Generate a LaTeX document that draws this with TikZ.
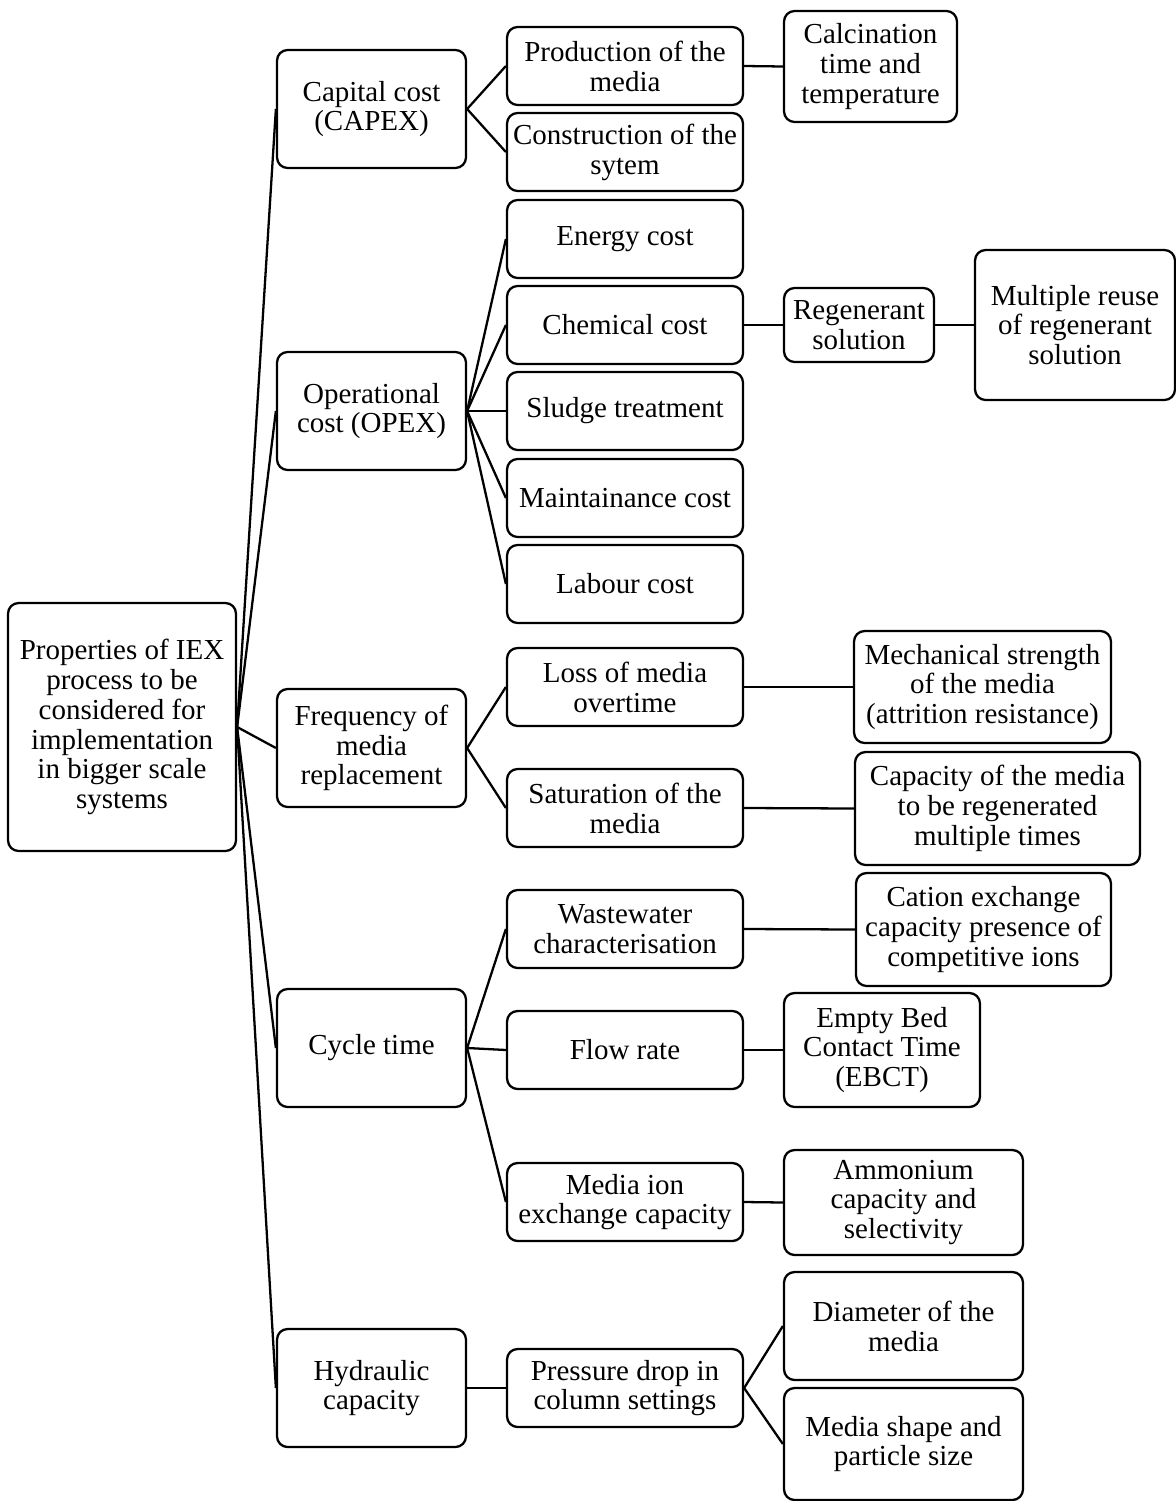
\documentclass[tikz,border=0pt]{standalone}
\usepackage{fontspec}
\setmainfont{Liberation Serif}
\begin{document}
\begin{tikzpicture}[x=0.02cm, y=-0.02cm, line width=1.3pt,
    box/.style={draw, rectangle, rounded corners=6pt, align=center, inner sep=1pt,
      font=\fontsize{16.5}{17}\selectfont},
    lvlone/.style={box, minimum width=3.78cm, minimum height=2.36cm},
    lvltwo/.style={box, minimum width=4.72cm, minimum height=1.56cm}]
\useasboundingbox (0,0) rectangle (1176,1501);
% root
\node[box, minimum width=4.56cm, minimum height=4.96cm] (root) at (122,727)
  {Properties of IEX\\process to be\\considered for\\implementation\\in bigger scale\\systems};
% first level
\node[lvlone] (capex) at (371.5,109) {Capital cost\\(CAPEX)};
\node[lvlone] (opex) at (371.5,411) {Operational\\cost (OPEX)};
\node[lvlone] (freq) at (371.5,748) {Frequency of\\media\\replacement};
\node[lvlone] (cycle) at (371.5,1048) {Cycle time};
\node[lvlone] (hydr) at (371.5,1388) {Hydraulic\\capacity};
% second level
\node[lvltwo] (prod) at (625,66) {Production of the\\media};
\node[lvltwo] (constr) at (625,152) {Construction of the\\sytem};
\node[lvltwo] (energy) at (625,239) {Energy cost};
\node[lvltwo] (chem) at (625,325) {Chemical cost};
\node[lvltwo] (sludge) at (625,411) {Sludge treatment};
\node[lvltwo] (maint) at (625,498) {Maintainance cost};
\node[lvltwo] (labour) at (625,584) {Labour cost};
\node[lvltwo] (loss) at (625,687) {Loss of media\\overtime};
\node[lvltwo] (satur) at (625,808) {Saturation of the\\media};
\node[lvltwo] (waste) at (625,929) {Wastewater\\characterisation};
\node[lvltwo] (flow) at (625,1050) {Flow rate};
\node[lvltwo] (ionex) at (625,1202) {Media ion\\exchange capacity};
\node[lvltwo] (press) at (625,1388) {Pressure drop in\\column settings};
% third level
\node[box, minimum width=3.46cm, minimum height=2.22cm] (calc) at (870.5,66.5) {Calcination\\time and\\temperature};
\node[box, minimum width=3.0cm, minimum height=1.48cm] (regen) at (859,325) {Regenerant\\solution};
\node[box, minimum width=4.0cm, minimum height=3.0cm] (reuse) at (1075,325) {Multiple reuse\\of regenerant\\solution};
\node[box, minimum width=5.14cm, minimum height=2.24cm] (mech) at (982.5,687) {Mechanical strength\\of the media\\(attrition resistance)};
\node[box, minimum width=5.7cm, minimum height=2.26cm] (capreg) at (997.5,808.5) {Capacity of the media\\to be regenerated\\multiple times};
\node[box, minimum width=5.1cm, minimum height=2.26cm] (cation) at (983.5,929.5) {Cation exchange\\capacity presence of\\competitive ions};
\node[box, minimum width=3.92cm, minimum height=2.28cm] (ebct) at (882,1050) {Empty Bed\\Contact Time\\(EBCT)};
\node[box, minimum width=4.78cm, minimum height=2.1cm] (ammon) at (903.5,1202.5) {Ammonium\\capacity and\\selectivity};
\node[box, minimum width=4.78cm, minimum height=2.16cm] (diam) at (903.5,1326) {Diameter of the\\media};
\node[box, minimum width=4.78cm, minimum height=2.24cm] (shape) at (903.5,1444) {Media shape and\\particle size};
% connectors
\foreach \c in {capex,opex,freq,cycle,hydr}
  \draw (root.east) -- (\c.west);
\foreach \c in {prod,constr}
  \draw (capex.east) -- (\c.west);
\foreach \c in {energy,chem,sludge,maint,labour}
  \draw (opex.east) -- (\c.west);
\foreach \c in {loss,satur}
  \draw (freq.east) -- (\c.west);
\foreach \c in {waste,flow,ionex}
  \draw (cycle.east) -- (\c.west);
\draw (hydr.east) -- (press.west);
\draw (prod.east) -- (calc.west);
\draw (chem.east) -- (regen.west);
\draw (regen.east) -- (reuse.west);
\draw (loss.east) -- (mech.west);
\draw (satur.east) -- (capreg.west);
\draw (waste.east) -- (cation.west);
\draw (flow.east) -- (ebct.west);
\draw (ionex.east) -- (ammon.west);
\draw (press.east) -- (diam.west);
\draw (press.east) -- (shape.west);
\end{tikzpicture}
\end{document}
